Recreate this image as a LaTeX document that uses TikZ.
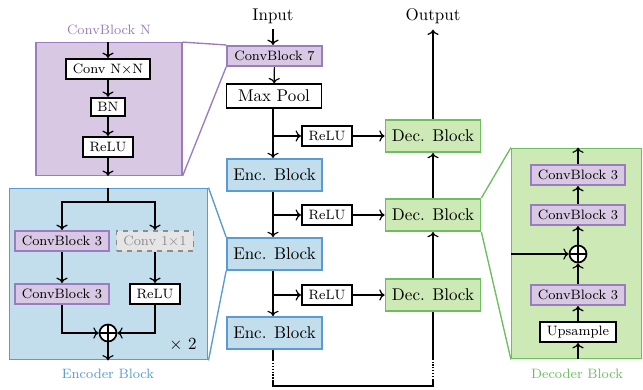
\documentclass[tikz,border=0pt]{standalone}
\usetikzlibrary{arrows.meta,positioning}
\definecolor{cbfill}{HTML}{D9C8E3}
\definecolor{cbdraw}{HTML}{9A7DBE}
\definecolor{encfill}{HTML}{C2DDEB}
\definecolor{encdraw}{HTML}{5A9BD2}
\definecolor{decfill}{HTML}{CDE9B5}
\definecolor{decdraw}{HTML}{6DBE5E}
\definecolor{offgray}{HTML}{8C8C8C}

\begin{document}
\begin{tikzpicture}[x=0.0207cm,y=-0.0207cm,
  arr/.style={->,line width=0.7pt},
  wire/.style={line width=0.7pt},
  smallbox/.style={draw,line width=1pt,fill=white,inner xsep=4pt,inner ysep=0pt,minimum height=12pt,font=\footnotesize},
  cbbox/.style={smallbox,draw=cbdraw,fill=cbfill},
  bigbox/.style={draw,line width=1pt,fill=white,minimum width=56pt,minimum height=19pt,inner sep=0pt},
  encblk/.style={bigbox,draw=encdraw,fill=encfill},
  decblk/.style={bigbox,draw=decdraw,fill=decfill},
  group/.style={line width=0.8pt,inner sep=0pt},
  addnode/.style={circle,draw,line width=1pt,fill=white,minimum size=10pt,inner sep=0pt}]
\useasboundingbox (0,0) rectangle (643,389);

% ConvBlock N
\node[group,draw=cbdraw,fill=cbfill,minimum width=86pt,minimum height=78pt] (cbn) at (109,109) {};
\node[font=\footnotesize,text=cbdraw] (cbnlabel) at (109,30) {ConvBlock N};
\node[smallbox] (conv) at (108,69) {Conv N$\times$N};
\node[smallbox,minimum height=11pt] (bn) at (108,107) {BN};
\node[smallbox] (cbrelu) at (108,147) {ReLU};
\draw[arr] (cbn.north -| conv) -- (conv);
\draw[arr] (conv) -- (bn);
\draw[arr] (bn) -- (cbrelu);
\draw[arr] (cbrelu) -- (cbrelu |- cbn.south);

% Encoder Block
\node[group,draw=encdraw,fill=encfill,minimum width=117pt,minimum height=101pt] (encbox) at (108.5,274) {};
\node[font=\footnotesize,text=encdraw] (enclabel) at (108,374) {Encoder Block};
\coordinate (split) at (108,202);
\node[cbbox] (ecb1) at (62,241) {ConvBlock 3};
\node[smallbox,dashed,draw=offgray,fill=black!10,text=offgray] (conv1) at (155,241) {Conv 1$\times$1};
\node[cbbox] (ecb2) at (62,294) {ConvBlock 3};
\node[smallbox] (erelu) at (155,294) {ReLU};
\node[addnode] (eadd) at (108,333) {};
\draw[line width=0.8pt] (eadd.north) -- (eadd.south) (eadd.west) -- (eadd.east);
\node (times) at (183,345) {$\times$ 2};
\draw[wire] (split |- encbox.north) -- (split);
\draw[arr] (split) -| (ecb1);
\draw[arr] (split) -| (conv1);
\draw[arr] (ecb1) -- (ecb2);
\draw[arr] (conv1) -- (erelu);
\draw[arr] (ecb2) |- (eadd);
\draw[arr] (erelu) |- (eadd);
\draw[arr] (eadd) -- (eadd |- encbox.south);

% Decoder Block
\node[group,draw=decdraw,fill=decfill,minimum width=76.5pt,minimum height=124pt] (decbox) at (576.5,253.5) {};
\node[font=\footnotesize,text=decdraw] (declabel) at (577,374) {Decoder Block};
\node[smallbox] (up) at (578,332) {Upsample};
\node[cbbox] (dcb1) at (578,295) {ConvBlock 3};
\node[addnode] (dadd) at (578,254) {};
\draw[line width=0.8pt] (dadd.north) -- (dadd.south) (dadd.west) -- (dadd.east);
\node[cbbox] (dcb2) at (578,215) {ConvBlock 3};
\node[cbbox] (dcb3) at (578,175) {ConvBlock 3};
\draw[arr] (up |- decbox.south) -- (up);
\draw[arr] (up) -- (dcb1);
\draw[arr] (dcb1) -- (dadd);
\draw[arr] (dadd) -- (dcb2);
\draw[arr] (dcb2) -- (dcb3);
\draw[arr] (dcb3) -- (dcb3 |- decbox.north);
\draw[arr] (decbox.west |- dadd) -- (dadd);

% main network
\node (input) at (273,16) {Input};
\node (output) at (433,16) {Output};
\node[cbbox,minimum width=56pt] (cb7) at (274.5,56) {ConvBlock 7};
\node[bigbox,minimum height=14pt] (pool) at (274,96) {Max Pool};
\node[encblk] (enc1) at (274.5,175) {Enc. Block};
\node[encblk] (enc2) at (274.5,254) {Enc. Block};
\node[encblk] (enc3) at (274.5,333) {Enc. Block};
\node[smallbox] (relu1) at (327,136) {ReLU};
\node[smallbox] (relu2) at (327,215) {ReLU};
\node[smallbox] (relu3) at (327,295) {ReLU};
\node[decblk] (dec1) at (433,136) {Dec. Block};
\node[decblk] (dec2) at (433,215) {Dec. Block};
\node[decblk] (dec3) at (433,295) {Dec. Block};

\draw[arr] (input) -- (input |- cb7.north);
\draw[arr] (cb7) -- (pool);
\draw[arr] (pool.south -| input) -- (input |- enc1.north);
\draw[arr] (enc1.south -| input) -- (input |- enc2.north);
\draw[arr] (enc2.south -| input) -- (input |- enc3.north);
\draw[arr] (input |- relu1) -- (relu1);
\draw[arr] (input |- relu2) -- (relu2);
\draw[arr] (input |- relu3) -- (relu3);
\draw[arr] (relu1) -- (dec1);
\draw[arr] (relu2) -- (dec2);
\draw[arr] (relu3) -- (dec3);
\draw[arr] (dec3) -- (dec2);
\draw[arr] (dec2) -- (dec1);
\draw[arr] (dec1) -- (output);

% bottleneck path
\coordinate (ea) at (273,360);
\coordinate (eb) at (273,380);
\coordinate (da) at (433,360);
\coordinate (db) at (433,380);
\coordinate (bl) at (273,386);
\coordinate (br) at (433,386);
\draw[wire] (enc3.south -| ea) -- (ea);
\draw[wire,densely dotted] (ea) -- (eb);
\draw[wire] (eb) -- (bl) -- (br) -- (db);
\draw[wire,densely dotted] (db) -- (da);
\draw[wire] (da) -- (dec3);

% zoom lines
\draw[cbdraw,line width=0.8pt] (cbn.north east) -- (cb7.north west) (cbn.south east) -- (cb7.south west);
\draw[encdraw,line width=0.8pt] (encbox.north east) -- (enc2.north west) (encbox.south east) -- (enc2.south west);
\draw[decdraw,line width=0.8pt] (decbox.north west) -- (dec2.north east) (decbox.south west) -- (dec2.south east);
\end{tikzpicture}
\end{document}
